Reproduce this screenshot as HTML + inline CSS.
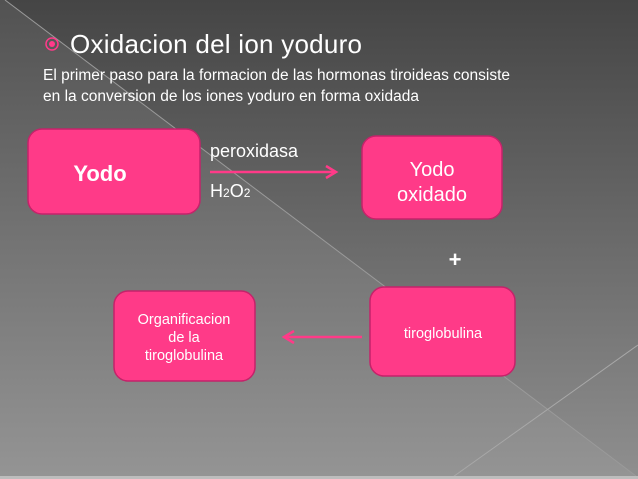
<!DOCTYPE html>
<html><head><style>
body{margin:0;width:638px;height:479px;overflow:hidden;font-family:"Liberation Sans",sans-serif}
</style></head><body>
<svg width="638" height="479" xmlns="http://www.w3.org/2000/svg" style="display:block">
<defs>
<linearGradient id="bg" x1="0" y1="0" x2="0" y2="1">
<stop offset="0" stop-color="#454545"/><stop offset="1" stop-color="#8f8f8f"/>
</linearGradient>
<linearGradient id="bg2" x1="0" y1="0" x2="0" y2="1">
<stop offset="0" stop-color="#525252"/><stop offset="1" stop-color="#949494"/>
</linearGradient>
</defs>
<rect width="638" height="479" fill="url(#bg)"/>
<polygon points="0,0 5,0 636,476 0,476" fill="url(#bg2)"/>
<line x1="5" y1="0" x2="636" y2="476" stroke="#9a9a9a" stroke-width="1"/>
<line x1="450" y1="479" x2="638" y2="345" stroke="#a8a8a8" stroke-width="1"/>
<rect x="0" y="476" width="638" height="3" fill="#bdbdbd"/>
<circle cx="52" cy="44" r="6" fill="none" stroke="#ff3a8a" stroke-width="1.5"/>
<circle cx="52" cy="44" r="3" fill="#ff3a8a"/>
<text x="70" y="53" font-size="26" fill="#fff" textLength="292">Oxidacion del ion yoduro</text>
<text x="43" y="80" font-size="15.5" fill="#fff" textLength="467">El primer paso para la formacion de las hormonas tiroideas consiste</text>
<text x="43" y="101" font-size="15.5" fill="#fff" textLength="376">en la conversion de los iones yoduro en forma oxidada</text>
<g fill="#ff3a88" stroke="#c4236a" stroke-width="1.5">
<rect x="28" y="129" width="172" height="85" rx="14"/>
<rect x="362" y="136" width="140" height="83" rx="14"/>
<rect x="370" y="287" width="145" height="89" rx="14"/>
<rect x="114" y="291" width="141" height="90" rx="14"/>
</g>
<text x="100" y="181" font-size="22" font-weight="bold" fill="#fff" text-anchor="middle">Yodo</text>
<text x="432" y="176" font-size="20" fill="#fff" text-anchor="middle">Yodo</text>
<text x="432" y="201" font-size="20" fill="#fff" text-anchor="middle">oxidado</text>
<text x="443" y="338" font-size="14.5" fill="#fff" text-anchor="middle">tiroglobulina</text>
<text x="184" y="324" font-size="14.5" fill="#fff" text-anchor="middle">Organificacion</text>
<text x="184" y="342" font-size="14.5" fill="#fff" text-anchor="middle">de la</text>
<text x="184" y="360" font-size="14.5" fill="#fff" text-anchor="middle">tiroglobulina</text>
<text x="210" y="157" font-size="18" fill="#fff">peroxidasa</text>
<text x="210" y="197" font-size="18" fill="#fff">H<tspan font-size="12">2</tspan>O<tspan font-size="12">2</tspan></text>
<line x1="210" y1="172" x2="334" y2="172" stroke="#ff3a88" stroke-width="2.5"/>
<polyline points="326,166 336,172 326,178" fill="none" stroke="#ff3a88" stroke-width="2.5"/>
<line x1="286" y1="337" x2="362" y2="337" stroke="#ff3a88" stroke-width="2.5"/>
<polyline points="294,331 284,337 294,343" fill="none" stroke="#ff3a88" stroke-width="2.5"/>
<text x="455" y="267" font-size="22" font-weight="bold" fill="#fff" text-anchor="middle">+</text>
</svg>
</body></html>
